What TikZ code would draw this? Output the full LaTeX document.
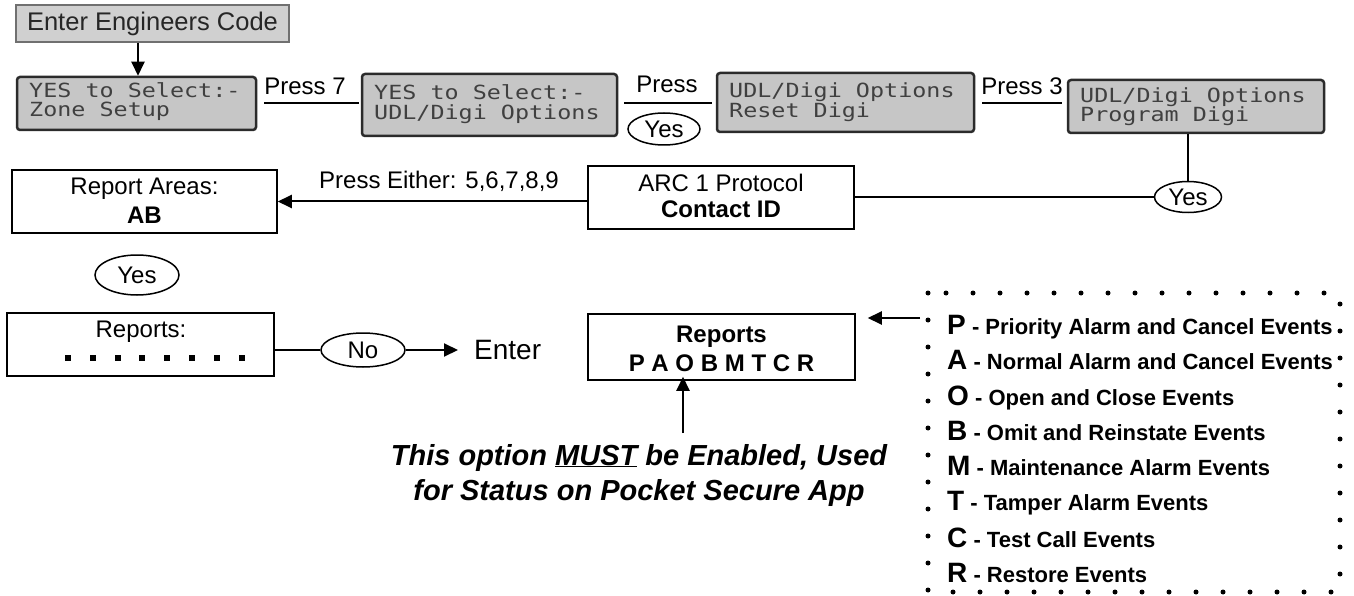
\documentclass[tikz,border=0pt]{standalone}
\usepackage{fontspec}
\setmainfont{Liberation Sans}
\newfontfamily\lcdfont[FakeStretch=1.2]{DejaVu Sans Mono}
\usetikzlibrary{arrows.meta,shapes.geometric}
\definecolor{lcdfill}{HTML}{C6C6C6}
\definecolor{lcdborder}{HTML}{2B2B2B}
\definecolor{lcdtext}{HTML}{404040}
\definecolor{codefill}{HTML}{D0D0D0}
\definecolor{codeborder}{HTML}{707070}
\tikzset{
  lcd/.style={draw=lcdborder, fill=lcdfill, line width=2.5pt, rounded corners=3pt, inner sep=0pt},
  lcdtxt/.style={font=\lcdfont\fontsize{19.5}{19}\selectfont, text=lcdtext, anchor=base west, inner sep=0pt},
  lbl/.style={font=\fontsize{24}{28}\selectfont, anchor=base, inner sep=0pt},
  bl/.style={font=\bfseries\fontsize{24}{28}\selectfont, anchor=base, inner sep=0pt},
  oval/.style={ellipse, draw, line width=1.5pt, inner sep=0pt, font=\fontsize{24}{28}\selectfont},
  plainbox/.style={draw, line width=1.5pt, inner sep=0pt},
  conn/.style={line width=2pt},
  arr/.style={line width=2pt, -{Triangle[length=14pt,width=13pt]}},
  legrow/.style={anchor=base west, inner sep=0pt, font=\bfseries},
}
\newcommand\LegBig[1]{{\fontsize{28}{28}\selectfont #1}}
\newcommand\LegSmall[1]{{\fontsize{22}{22}\selectfont #1}}
\begin{document}
\begin{tikzpicture}[x=1pt,y=-1pt]
\useasboundingbox (0,0) rectangle (1354,596);
% top row
\node[draw=codeborder, fill=codefill, line width=1.5pt, inner sep=0pt, minimum width=273pt, minimum height=37pt,
      font=\fontsize{25.5}{28}\selectfont, text=black!85] (code) at (152.5,23.5) {Enter Engineers Code};
\node[lcd, minimum width=239pt, minimum height=53pt] (b1) at (136.5,103.5) {};
\node[lcd, minimum width=255pt, minimum height=62pt] (b2) at (489.5,105) {};
\node[lcd, minimum width=257pt, minimum height=59pt] (b3) at (845.5,102.5) {};
\node[lcd, minimum width=256pt, minimum height=53pt] (b4) at (1196,106.5) {};
\node[lcdtxt] (b1a) at (29,98) {YES to Select:-};
\node[lcdtxt] (b1b) at (29,117) {Zone Setup};
\node[lcdtxt] (b2a) at (374,100) {YES to Select:-};
\node[lcdtxt] (b2b) at (374,120) {UDL/Digi Options};
\node[lcdtxt] (b3a) at (729,98) {UDL/Digi Options};
\node[lcdtxt] (b3b) at (729,118) {Reset Digi};
\node[lcdtxt] (b4a) at (1080,103) {UDL/Digi Options};
\node[lcdtxt] (b4b) at (1080,122) {Program Digi};
\draw[arr] (code.south -| 138,0) -- (b1.north -| 138,0);
\draw[conn] ([xshift=7pt]b1.east) -- ([xshift=-2pt]b1.east -| b2.west);
\node[lbl] (p7) at (305,95) {Press 7};
\draw[conn] ([xshift=6pt]b2.east |- 0,103) -- ([xshift=-4pt]b3.west |- 0,103);
\node[lbl] (pr) at (667,93) {Press};
\node[oval, minimum width=72pt, minimum height=32pt] (y2) at (664,129) {Yes};
\draw[conn] ([xshift=7pt]b3.east |- 0,103) -- ([xshift=-5pt]b4.west |- 0,103);
\node[lbl] (p3) at (1022,95) {Press 3};
% second row
\node[oval, minimum width=67pt, minimum height=31pt] (y4) at (1188,197) {Yes};
\draw[conn] (y4.north |- b4.south) -- (y4.north);
\node[plainbox, minimum width=266pt, minimum height=63pt] (arc) at (721,197.5) {};
\node[lbl] (arc1) at (721,192) {ARC 1 Protocol};
\node[bl] (arc2) at (721,218) {Contact ID};
\draw[conn] (y4.west) -- (y4.west -| arc.east);
\node[plainbox, minimum width=265pt, minimum height=63pt] (ra) at (144.5,201.5) {};
\node[lbl] (ra1) at (144.5,195) {Report Areas:};
\node[bl] (ra2) at (144.5,223) {AB};
\draw[arr] (ra.east -| arc.west) -- (ra.east);
\node[lbl] (pe) at (439,189) {Press Either: 5,6,7,8,9};
\node[oval, minimum width=84pt, minimum height=40pt] (y5) at (137,275) {Yes};
% third row
\node[plainbox, minimum width=267pt, minimum height=63pt] (rep) at (140.5,344.5) {};
\node[lbl] (rep1) at (141,337) {Reports:};
\foreach \i in {0,...,7} {
  \fill (68+\i*24.8-3,355) rectangle (68+\i*24.8+3,361);
}
\node[oval, minimum width=84pt, minimum height=34pt] (no) at (363,350) {No};
\draw[conn] (no.west -| rep.east) -- (no.west);
\node[anchor=west, inner sep=0pt, font=\fontsize{28}{30}\selectfont] (ent) at (474,350) {Enter};
\draw[arr] (no.east) -- ([xshift=-16pt]ent.west);
\node[plainbox, minimum width=267pt, minimum height=66pt] (rp) at (721.5,347) {};
\node[bl] (rp1) at (721.5,342) {Reports};
\node[bl] (rp2) at (721.5,371) {P A O B M T C R};
\coordinate (mustfrom) at (683,433);
\draw[arr] (mustfrom) -- ([yshift=4pt]rp.south -| mustfrom);
\node[anchor=base, inner sep=0pt, font=\bfseries\itshape\fontsize{29}{34}\selectfont] (note1) at (639,465) {This option \underline{MUST} be Enabled, Used};
\node[anchor=base, inner sep=0pt, font=\bfseries\itshape\fontsize{29}{34}\selectfont] (note2) at (639,500) {for Status on Pocket Secure App};
% legend
\draw[line width=5pt, dash pattern=on 0pt off 27pt, line cap=round] (928,293) rectangle (1340,592);
\coordinate (legfrom) at (920,318);
\draw[arr] (legfrom) -- ([xshift=12pt]rp.east |- legfrom);
\node[legrow] (l1) at (947,334) {\LegBig{P}\LegSmall{ - Priority Alarm and Cancel Events}};
\node[legrow] (l2) at (947,369) {\LegBig{A}\LegSmall{ - Normal Alarm and Cancel Events}};
\node[legrow] (l3) at (947,405) {\LegBig{O}\LegSmall{ - Open and Close Events}};
\node[legrow] (l4) at (947,440) {\LegBig{B}\LegSmall{ - Omit and Reinstate Events}};
\node[legrow] (l5) at (947,475) {\LegBig{M}\LegSmall{ - Maintenance Alarm Events}};
\node[legrow] (l6) at (947,510) {\LegBig{T}\LegSmall{ - Tamper Alarm Events}};
\node[legrow] (l7) at (947,547) {\LegBig{C}\LegSmall{ - Test Call Events}};
\node[legrow] (l8) at (947,582) {\LegBig{R}\LegSmall{ - Restore Events}};
\end{tikzpicture}
\end{document}
